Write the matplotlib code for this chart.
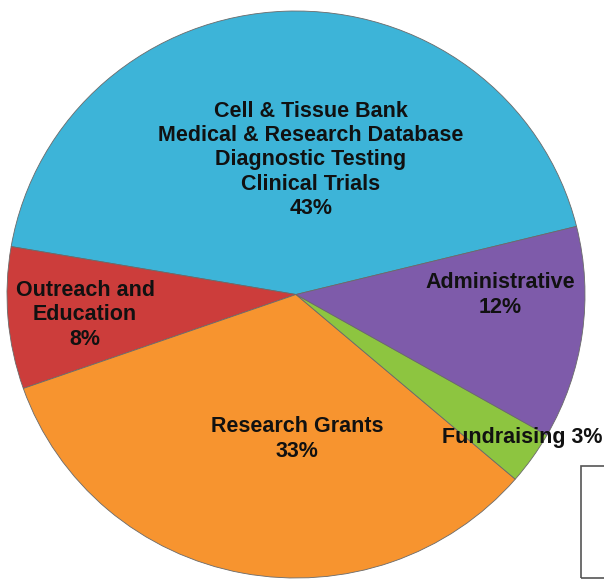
import matplotlib.pyplot as plt
from matplotlib.patches import Rectangle

# slices, counter-clockwise from the upper right
labels = ["Cell & Tissue Bank\nMedical & Research Database\nDiagnostic Testing\nClinical Trials",
          "Outreach and\nEducation",
          "Research Grants",
          "Fundraising",
          "Administrative"]
values = [43, 8, 33, 3, 12]
colors = ["#3DB4D8", "#CC3D3B", "#F7942F", "#8DC540", "#7E5BAA"]

plt.rcParams["font.family"] = ["Liberation Sans", "DejaVu Sans"]

W, H = 604, 579
fig = plt.figure(figsize=(W / 100, H / 100), dpi=100)

# pie area in pixels (slightly wider than tall, like the original)
cx, cy, rx, ry = 296, 294.5, 289, 283.5
ax = fig.add_axes([(cx - rx) / W, (H - cy - ry) / H, 2 * rx / W, 2 * ry / H])

wedges, _ = ax.pie(values, colors=colors, startangle=13.9, counterclock=True,
                   radius=1, wedgeprops=dict(edgecolor="#6a6a6a", linewidth=0.6))
ax.set_aspect("auto")
ax.set_xlim(-1, 1)
ax.set_ylim(-1, 1)
ax.axis("off")


def px(x, y):
    return (x - cx) / rx, (cy - y) / ry


txt = dict(fontsize=15.5, fontweight="bold", color="#111111",
           ha="center", va="center", linespacing=1.2)

# label anchor points (pixels in the original picture)
spots = [(311, 160), (85, 315), (297, 439), (442, 437), (500, 295)]

for i, (lab, v) in enumerate(zip(labels, values)):
    x, y = px(*spots[i])
    if lab == "Fundraising":
        ax.text(x, y, f"{lab} {v}%", **{**txt, "ha": "left"}, clip_on=False)
    else:
        ax.text(x, y, f"{lab}\n{v}%", **txt)

# partial legend frame cut by the right edge
fig.patches.append(Rectangle((581 / W, 1 / H), 40 / W, 112 / H,
                             transform=fig.transFigure, fill=False,
                             edgecolor="#555555", linewidth=1.2))

fig.savefig("out.png", dpi=100)
